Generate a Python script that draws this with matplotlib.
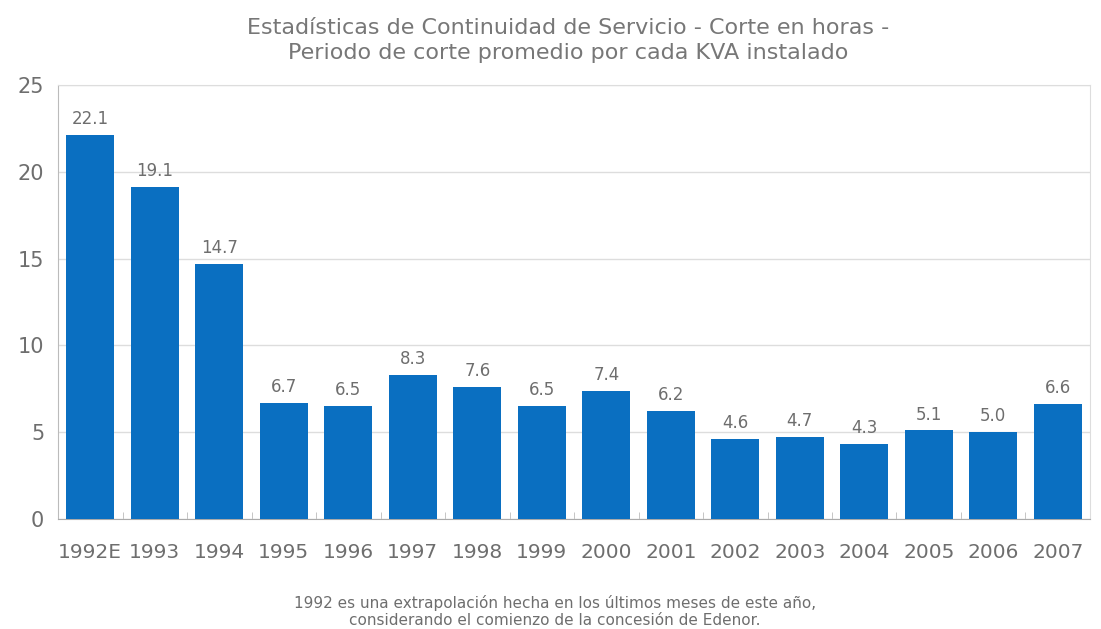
import matplotlib
matplotlib.use('Agg')
import matplotlib.pyplot as plt
import numpy as np

plt.rcParams['font.family'] = ['DejaVu Sans']

# Datos: horas de corte promedio por KVA instalado
anios = ['1992E', '1993', '1994', '1995', '1996', '1997', '1998', '1999',
         '2000', '2001', '2002', '2003', '2004', '2005', '2006', '2007']
horas = [22.1, 19.1, 14.7, 6.7, 6.5, 8.3, 7.6, 6.5,
         7.4, 6.2, 4.6, 4.7, 4.3, 5.1, 5.0, 6.6]
yticks = [0, 5, 10, 15, 20, 25]

gris = '#6e6e6e'
azul = '#0a6fc1'

fig = plt.figure(figsize=(11.01, 6.29), dpi=100)
ax = fig.add_axes([0.0527, 0.1749, 0.9373, 0.69])

x = np.arange(len(anios))
ax.bar(x, horas, width=0.74, color=azul, zorder=3)

for xi, v in zip(x, horas):
    ax.text(xi, v + 0.4, f'{v:.1f}', ha='center', va='bottom',
            fontsize=12, color=gris, zorder=4)

ax.set_xlim(-0.5, len(anios) - 0.5)
ax.set_ylim(0, 25)
ax.set_yticks(yticks)
ax.set_xticks(x)
ax.set_xticklabels(anios)
ax.set_xticks(x[:-1] + 0.5, minor=True)

ax.tick_params(axis='x', which='major', length=0, pad=17, labelsize=14.5, labelcolor=gris)
ax.tick_params(axis='x', which='minor', direction='in', length=5, color='#bbbbbb')
ax.tick_params(axis='y', length=0, pad=10, labelsize=15, labelcolor=gris)

ax.grid(axis='y', color='#dddddd', linewidth=1, zorder=0)
for s in ['top', 'right']:
    ax.spines[s].set_color('#dddddd')
ax.spines['left'].set_color('#bbbbbb')
ax.spines['bottom'].set_color('#aaaaaa')

fig.text(0.516, 0.936, 'Estadísticas de Continuidad de Servicio - Corte en horas -\n'
         'Periodo de corte promedio por cada KVA instalado',
         ha='center', va='center', fontsize=16, color='#777777', linespacing=1.3)

fig.text(0.504, 0.028, '1992 es una extrapolación hecha en los últimos meses de este año,\n'
         'considerando el comienzo de la concesión de Edenor.',
         ha='center', va='center', fontsize=11, color=gris, linespacing=1.15)

fig.savefig('out.png', dpi=100)
plt.close()
